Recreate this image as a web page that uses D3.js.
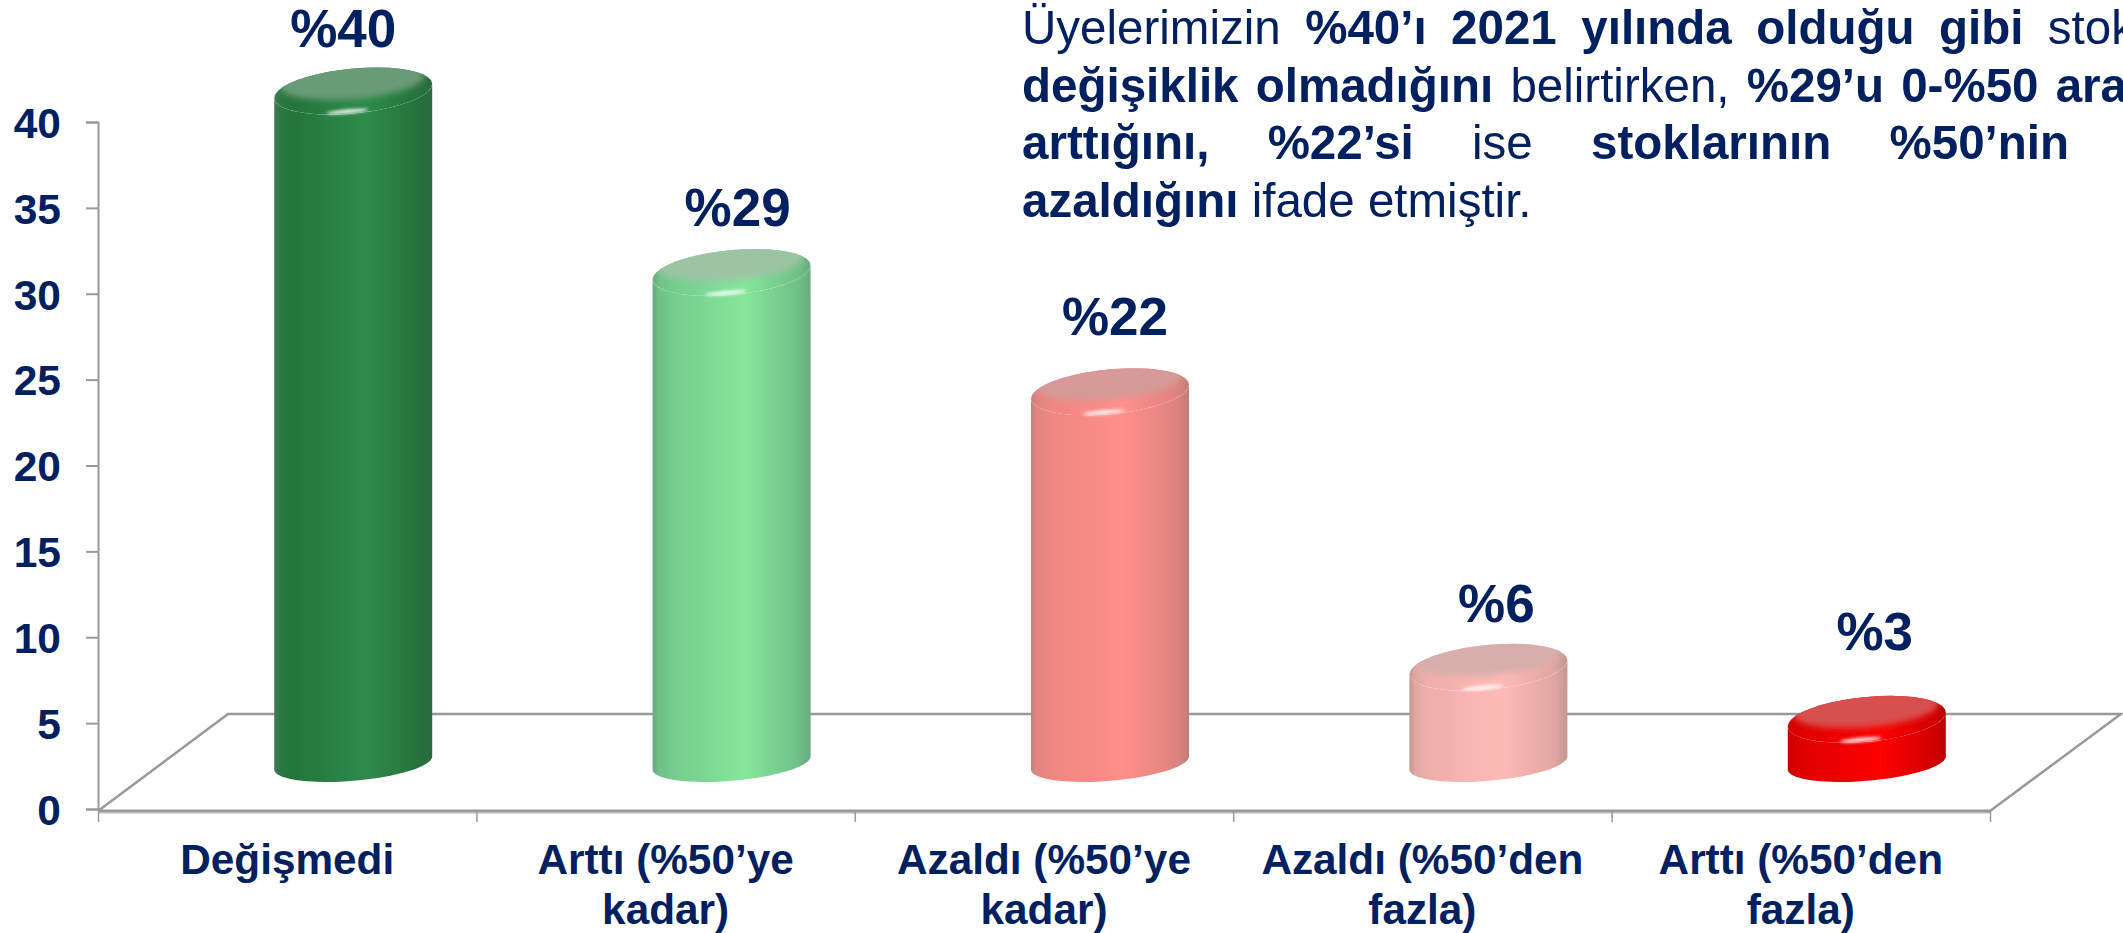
<!DOCTYPE html>
<html><head><meta charset="utf-8">
<script src="https://cdn.jsdelivr.net/npm/d3@7"></script>
<style>html,body{margin:0;padding:0;background:#fff;overflow:hidden}svg{display:block}text{font-family:"Liberation Sans",Arial,sans-serif;fill:#002060}</style>
</head><body><svg id="c" width="2123" height="933"></svg>
<script>
// ---- data
const categories = ["Değişmedi","Arttı (%50’ye kadar)","Azaldı (%50’ye kadar)","Azaldı (%50’den fazla)","Arttı (%50’den fazla)"];
const categoryLines = [["Değişmedi"],["Arttı (%50’ye","kadar)"],["Azaldı (%50’ye","kadar)"],["Azaldı (%50’den","fazla)"],["Arttı (%50’den","fazla)"]];
const values = [40, 29.2, 22.1, 5.7, 2.6];
const valueLabels = ["%40","%29","%22","%6","%3"];
const yTicks = [0,5,10,15,20,25,30,35,40];
const paragraph = [
  [["Üyelerimizin",0],["%40’ı 2021 yılında olduğu gibi",1],["stok",0]],
  [["değişiklik olmadığını",1],["belirtirken,",0],["%29’u 0-%50 ara",1]],
  [["arttığını, %22’si",1],["ise",0],["stoklarının %50’nin",1]],
  [["azaldığını",1],["ifade etmiştir.",0]]
];
// ---- styles and layout
const styles = [
  {edgeL:"#3f7d55",dark:"#24743a",mid:"#2e8b4c",edgeR:"#2a6a3c",cap:"#6b9b78"},
  {edgeL:"#66a87e",dark:"#74cc8c",mid:"#86e69b",edgeR:"#68aa80",cap:"#9cc4a4"},
  {edgeL:"#c67f7c",dark:"#ee8682",mid:"#ff8f8b",edgeR:"#c47e7a",cap:"#d69a98"},
  {edgeL:"#c49692",dark:"#efaeaa",mid:"#ffbab6",edgeR:"#c49692",cap:"#d6aeac"},
  {edgeL:"#c80000",dark:"#e00000",mid:"#ff0000",edgeR:"#b80000",cap:"#d85050"}
];
const labelNudge = [[-10,-21],[6,-23],[5,-33],[8,-22],[8,-46]];
const lineEnds = [2135,2127,2069,null];
const navy = "#002060", axisGrey = "#999";
const depthX = 66, depthY = 97, axisX = 98, floorFront = 811, floorRight = 1990;
const rx = 79, topRy = 23.5, topTilt = 7, baseRy = 19, baseTilt = 6.5;
const paraLeft = 1022, paraSquash = 0.99;

const svg = d3.select("#c");
const defs = svg.append("defs");
defs.append("filter").attr("id","soft").append("feGaussianBlur").attr("stdDeviation",0.6);
defs.append("filter").attr("id","blur3").attr("x","-30%").attr("y","-30%").attr("width","160%").attr("height","160%").append("feGaussianBlur").attr("stdDeviation",3);
defs.append("filter").attr("id","blur2").attr("x","-50%").attr("y","-200%").attr("width","200%").attr("height","500%").append("feGaussianBlur").attr("stdDeviation",1.6);

const y = d3.scaleLinear().domain([0,40]).range([809,122]);
const band = d3.scaleBand().domain(categories).range([axisX,floorRight]);
const xTicks = d3.scaleLinear().domain([0,categories.length]).range([axisX,floorRight]);
const barY = d3.scaleLinear().domain([0,40]).range([763,91]);

// ---- floor
const floor = svg.append("g").attr("fill","none").attr("stroke",axisGrey);
floor.append("line").attr("x1",axisX).attr("x2",floorRight).attr("y1",floorFront+1).attr("y2",floorFront+1).attr("stroke","#ddd").attr("stroke-width",4);
floor.append("path").attr("stroke-width",2.5).attr("stroke-linejoin","miter")
  .attr("d",d3.line()([[axisX,floorFront],[axisX+depthX*2-2,floorFront-depthY],[floorRight+depthX*2-1,floorFront-depthY],[floorRight,floorFront]]));
floor.append("line").attr("x1",axisX).attr("x2",floorRight).attr("y1",floorFront).attr("y2",floorFront).attr("stroke-width",3);

// ---- axes
const ga = svg.append("g").attr("transform",`translate(${axisX},0)`)
  .call(d3.axisLeft(y).tickValues(yTicks).tickSize(12).tickPadding(25));
ga.selectAll("path,line").attr("stroke",axisGrey).attr("stroke-width",2);
ga.selectAll("text").attr("font-size",42.5).attr("font-weight","bold").attr("fill",navy).attr("dy","0.36em");
const gb = svg.append("g").attr("transform",`translate(0,${floorFront})`)
  .call(d3.axisBottom(xTicks).ticks(categories.length).tickFormat("").tickSize(11).tickSizeOuter(0));
gb.select("path").remove();
gb.selectAll("line").attr("stroke",axisGrey).attr("stroke-width",1.5);

// ---- category labels
svg.append("g").selectAll("text").data(categories).join("text")
  .attr("text-anchor","middle").attr("font-size",42.3).attr("font-weight","bold")
  .each(function(c,i){
    d3.select(this).selectAll("tspan").data(categoryLines[i]).join("tspan")
      .attr("x",band(c)+band.bandwidth()/2)
      .attr("y",(d,k)=>874+k*50).text(d=>d);
  });

// ---- cylinders
// a tilted ellipse: x extremes at t=0 (right, raised) and t=PI (left, lowered)
const arc = (cx,cy,ry,tilt,a,b)=>{
  const phi = Math.acos(-tilt/ry);
  return d3.range(0,41).map(k=>{const t=a+(b-a)*k/40; return [cx+rx*Math.cos(t), cy+ry*Math.cos(t+phi)];});
};
const lineGen = d3.line();
const cyl = svg.append("g").attr("filter","url(#soft)");
values.forEach((v,i)=>{
  const cx = band(categories[i])+band.bandwidth()/2+depthX, top=barY(v), base=barY(0), s=styles[i];
  const grad = defs.append("linearGradient").attr("id","g"+i);
  [[0,s.edgeL],[.04,d3.interpolateRgb(s.edgeL,s.dark)(.7)],[.12,s.dark],[.58,s.mid],[.92,d3.interpolateRgb(s.dark,s.edgeR)(.35)],[1,s.edgeR]]
    .forEach(([o,c])=>grad.append("stop").attr("offset",o).attr("stop-color",c));
  const g = cyl.append("g");
  // body: from the right edge of the top, along the front of the base, back up the left edge
  const body = [...arc(cx,base,baseRy,baseTilt,0,-Math.PI), ...arc(cx,top,topRy,topTilt,-Math.PI,0)];
  g.append("path").attr("d",lineGen(body)+"Z").attr("fill",`url(#g${i})`);
  // cap: same shading as the body so that the bevel runs into it without a seam
  const capPath = lineGen(arc(cx,top,topRy,topTilt,0,2*Math.PI))+"Z";
  defs.append("clipPath").attr("id","clip"+i).append("path").attr("d",capPath);
  g.append("path").attr("d",capPath).attr("fill",`url(#g${i})`);
  const inner = g.append("g").attr("clip-path",`url(#clip${i})`);
  inner.append("g").attr("filter","url(#blur3)")
    .append("path").attr("d",capPath).attr("fill",s.cap)
    .attr("transform",`translate(${cx-1},${top-10}) scale(0.92,0.8) translate(${-cx},${-top})`);
  // highlight on the front of the rim
  g.append("ellipse").attr("cx",cx-6).attr("cy",top+topRy-3).attr("rx",21).attr("ry",2.2)
    .attr("transform",`rotate(-5 ${cx-6} ${top+topRy-3})`)
    .attr("fill","#fff").attr("fill-opacity",.85).attr("filter","url(#blur2)");
});

// ---- value labels
svg.append("g").selectAll("text").data(values).join("text")
  .attr("text-anchor","middle").attr("font-size",53).attr("font-weight","bold")
  .attr("x",(d,i)=>band(categories[i])+band.bandwidth()/2+depthX+labelNudge[i][0])
  .attr("y",(d,i)=>barY(d)-topRy+labelNudge[i][1])
  .text((d,i)=>valueLabels[i]);

// ---- paragraph
const para = svg.append("g");
paragraph.forEach((line,i)=>{
  const t = para.append("text").attr("transform",`translate(${paraLeft},${43.7+i*57.8}) scale(${paraSquash},1)`)
    .attr("font-size",48).attr("xml:space","preserve");
  line.forEach(([w,b],k)=>t.append("tspan").attr("font-weight",b?"bold":"normal").text((k?" ":"")+w));
  if(lineEnds[i]){
    const gaps = line.map(l=>l[0]).join(" ").split(" ").length-1;
    t.attr("word-spacing",((lineEnds[i]-paraLeft)/paraSquash-t.node().getComputedTextLength())/gaps);
  }
});
</script></body></html>
